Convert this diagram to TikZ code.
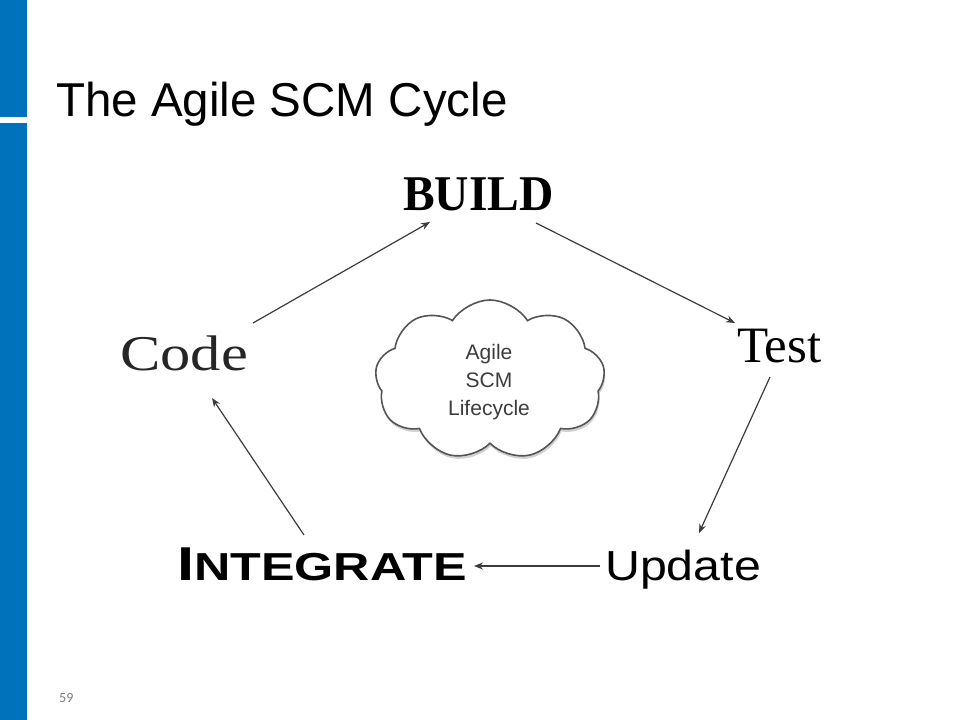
\documentclass[tikz,border=0pt]{standalone}
\usepackage{fontspec}
\setmainfont{Liberation Sans}
\newfontfamily\serifA{Liberation Serif}
\newfontfamily\pagefont{Carlito}
\usetikzlibrary{calc,shapes.symbols,shadows,arrows.meta}
\definecolor{barblue}{RGB}{0,113,187}
\definecolor{arrowgray}{RGB}{60,60,60}
\definecolor{cloudline}{RGB}{85,85,85}
\definecolor{cloudtext}{RGB}{60,60,60}
\tikzset{
  lbl/.style={inner sep=0pt, anchor=base west, text=black},
  flow/.style={draw=arrowgray, line width=1.2bp, -{Stealth[length=9bp,width=7bp]}},
  cloudbox/.style={cloud, cloud puffs=9, cloud puff arc=115, aspect=1.45,
    draw=cloudline, line width=1.6bp, fill=white,
    minimum width=230bp, minimum height=160bp, inner sep=0pt,
    drop shadow={shadow xshift=1bp, shadow yshift=-3bp, opacity=0.35}},
}
\begin{document}
\begin{tikzpicture}[x=1bp,y=-1bp]
\fill[white] (0,0) rectangle (960,720);
\useasboundingbox (0,0) rectangle (960,720);
% left bar
\fill[barblue] (0,0) rectangle (27,117);
\fill[barblue] (0,123) rectangle (27,720);
% title
\node[lbl] (title) at (56,117) {\fontsize{47.5bp}{50bp}\selectfont The Agile SCM Cycle};
% page number
\node[lbl, text=gray] (pg) at (59,702) {\pagefont\fontsize{14bp}{16bp}\selectfont 59};
% cloud
\node[cloudbox] (cloud) at (490,380) {};
\node[align=center, text=cloudtext, inner sep=0pt, font=\fontsize{21bp}{28bp}\selectfont] (cloudtxt) at (489,382)
  {Agile\\SCM\\Lifecycle};
% labels
\node[lbl] (build) at (403,210) {\scalebox{0.95}[1]{\serifA\bfseries\fontsize{50bp}{50bp}\selectfont BUILD}};
\node[lbl, text=black!85] (code) at (120,370) {\scalebox{1.21}[1]{\serifA\fontsize{50bp}{50bp}\selectfont Code}};
\node[lbl] (test) at (737,362) {\serifA\fontsize{51bp}{51bp}\selectfont Test};
\node[lbl] (integrate) at (177,580) {\scalebox{1.29}[1]{\bfseries\fontsize{47.5bp}{48bp}\selectfont I\fontsize{39bp}{40bp}\selectfont NTEGRATE}};
\node[lbl] (update) at (605,580) {\scalebox{1.15}[1]{\fontsize{42bp}{42bp}\selectfont Update}};
% connectors
\draw[flow] ($(code.base west)+(133,-47)$) -- ($(build.base west)+(27,12)$);
\draw[flow] ($(build.base west)+(133,13)$) -- ($(test.base west)+(-2,-39)$);
\draw[flow] ($(test.base west)+(33,15)$) -- ($(update.base west)+(94,-47)$);
\draw[flow] ($(update.base west)+(-5,-14)$) -- ($(integrate.base west)+(297,-14)$);
\draw[flow] ($(integrate.base west)+(127,-45)$) -- ($(code.base west)+(92,28)$);
\end{tikzpicture}
\end{document}
